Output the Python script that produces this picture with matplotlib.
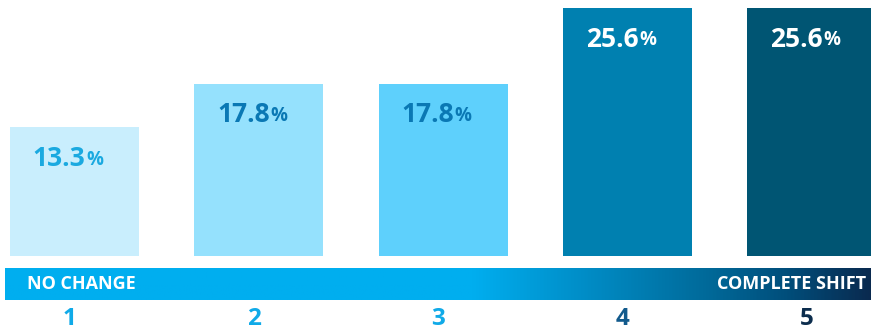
import numpy as np
import matplotlib
matplotlib.use("Agg")
import matplotlib.pyplot as plt
from matplotlib.colors import LinearSegmentedColormap

categories = ["1", "2", "3", "4", "5"]
values = [13.3, 17.8, 17.8, 25.6, 25.6]
bar_colors = ["#c9eefd", "#95e1fd", "#5ed0fc", "#0080b0", "#005573"]
label_colors = ["#1aa9e0", "#0a78b4", "#0a78b4", "#ffffff", "#ffffff"]
cat_colors = ["#10aae8", "#10aae8", "#10aae8", "#125a8c", "#0c2d4d"]
scale_left = "NO CHANGE"
scale_right = "COMPLETE SHIFT"

W, H = 871, 331
fig = plt.figure(figsize=(W / 100, H / 100), dpi=100)
ax = fig.add_axes([0, 0, 1, 1])
ax.set_axis_off()

# pixel mapping
px_per_unit_y = 248.0 / 25.6
base_from_bottom = 331 - 256
spacing = 184.25
first_center = 74.5
ax.set_xlim(-first_center / spacing, (W - first_center) / spacing)
ax.set_ylim(-base_from_bottom / px_per_unit_y, (H - base_from_bottom) / px_per_unit_y)

x = np.arange(len(values))
ax.bar(x, values, width=129 / spacing, color=bar_colors, linewidth=0)

family = ["Open Sans", "DejaVu Sans"]
for xi, v, c in zip(x, values, label_colors):
    yl = v - 31 / px_per_unit_y
    ax.text(xi + 11 / spacing, yl, f"{v:.1f}", ha="right", va="center",
            fontsize=19, fontweight="bold", color=c, family=family)
    ax.annotate("%", xy=(xi + 11 / spacing, yl), xytext=(0.5, -1),
                textcoords="offset points", ha="left", va="center",
                fontsize=13.5, fontweight="bold", color=c, family=family)

# gradient scale bar
y0 = (31 - base_from_bottom) / px_per_unit_y
y1 = (63 - base_from_bottom) / px_per_unit_y
x0 = (5 - first_center) / spacing
x1 = (W - first_center) / spacing
cmap = LinearSegmentedColormap.from_list(
    "grad",
    [(0.0, "#00aeef"), (0.54, "#00aeef"), (0.69, "#0088c0"),
     (0.81, "#006a9a"), (0.9, "#004f7c"), (1.0, "#0a2a4f")])
grad = np.linspace(0, 1, 512).reshape(1, -1)
ax.imshow(grad, extent=[x0, x1, y0, y1], aspect="auto", cmap=cmap, zorder=1)
ym = (y0 + y1) / 2
ax.text((27 - first_center) / spacing, ym, scale_left, ha="left", va="center",
        fontsize=13, fontweight="bold", color="white", family=family)
ax.text((866 - first_center) / spacing, ym, scale_right, ha="right", va="center",
        fontsize=13, fontweight="bold", color="white", family=family)

yc = (331 - 319 - base_from_bottom) / px_per_unit_y
for xi, lab, c in zip(x, categories, cat_colors):
    ax.text(xi - 5 / spacing, yc, lab, ha="center", va="center",
            fontsize=17.5, fontweight="bold", color=c, family=family)

ax.set_xlim(-first_center / spacing, (W - first_center) / spacing)
ax.set_ylim(-base_from_bottom / px_per_unit_y, (H - base_from_bottom) / px_per_unit_y)
fig.savefig("out.png", dpi=100, facecolor="white")
